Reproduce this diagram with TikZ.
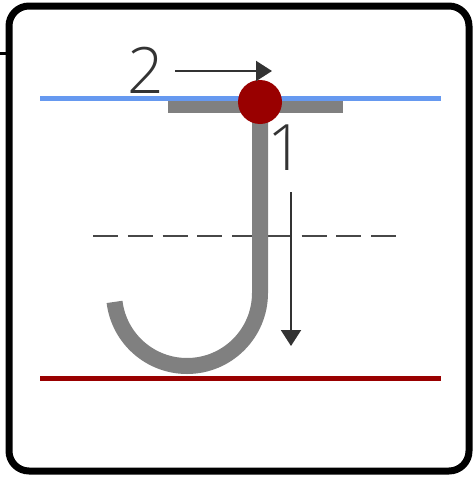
\documentclass[tikz,border=0pt]{standalone}
\usepackage{fontspec}
\setmainfont{Liberation Sans}
\newfontfamily\digitfont{Open Sans Light}
\usetikzlibrary{arrows.meta}
\definecolor{skyblue}{RGB}{102,153,240}
\definecolor{darkred}{RGB}{153,0,0}
\definecolor{strokegray}{RGB}{128,128,128}
\definecolor{inkgray}{RGB}{51,51,51}
\tikzset{
  frame/.style={line width=7pt, rounded corners=20pt, draw=black},
  guide/.style={line width=5pt},
  letterstroke/.style={draw=strokegray, line width=16pt},
  dashguide/.style={draw=inkgray!90, line width=2pt, dash pattern=on 25pt off 9.75pt},
  orderarrow/.style={draw=inkgray, line width=2pt, -{Triangle[length=16pt,width=20pt]}},
  digit/.style={inner sep=0pt, text=inkgray, font=\digitfont\fontsize{64}{64}\selectfont},
}
\begin{document}
\begin{tikzpicture}[x=1pt,y=-1pt]
\useasboundingbox (0,0) rectangle (475,479);
% frame
\draw[frame] (9,6) rectangle (469,471);
\draw[line width=3pt] (0,53) -- (9,53);
% guides
\fill[strokegray] (168,100) rectangle (343,113);
\draw[guide, draw=skyblue] (40,98) -- (441,98);
\draw[guide, draw=darkred] (40,378) -- (441,378);
\draw[dashguide] (93,236) -- (397,236);
% letter J
\draw[letterstroke] (260,106) -- (260,293) arc[start angle=0, end angle=173, radius=73];
% start dot
\fill[darkred] (260,102) circle[radius=22];
% labels and arrows
\node[digit] (two) at (146,70) {2};
\node[digit] (one) at (286,148) {1};
\coordinate (a2s) at (175,71);
\coordinate (a2e) at (272,71);
\coordinate (a1s) at (291,192);
\coordinate (a1e) at (291,346);
\draw[orderarrow] (a2s) -- (a2e);
\draw[orderarrow] (a1s) -- (a1e);
\end{tikzpicture}
\end{document}
